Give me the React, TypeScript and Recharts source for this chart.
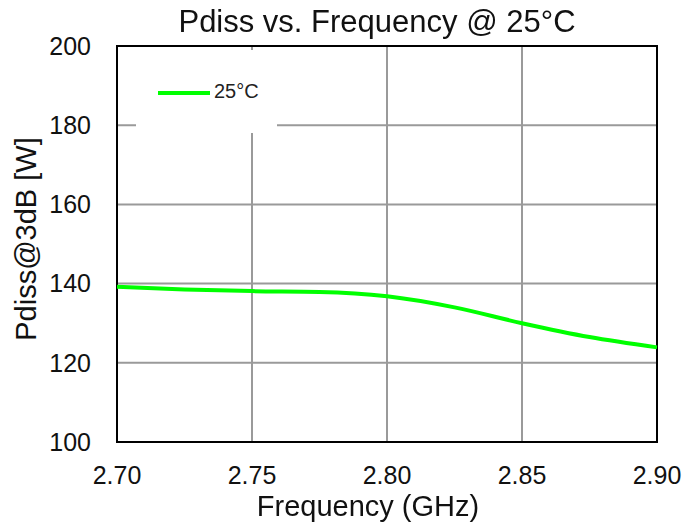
import React from 'react';
import { LineChart, Line, XAxis, YAxis, CartesianGrid, ReferenceArea } from 'recharts';

const frequency = [2.7, 2.725, 2.75, 2.775, 2.8, 2.825, 2.85, 2.875, 2.9];
const pdiss25 = [139.2, 138.5, 138.1, 137.9, 136.8, 134.0, 130.0, 126.5, 123.9];
const xTicks = [2.7, 2.75, 2.8, 2.85, 2.9];
const yTicks = [100, 120, 140, 160, 180, 200];

const FONT = '"Liberation Sans", Arial, sans-serif';
const INK = '#111';

const data = frequency.map((f, i) => ({ f, p: pdiss25[i] }));

export default function App() {
  return (
    <div style={{ position: 'fixed', left: 0, top: 0, width: 699, height: 527, background: '#fff', fontFamily: FONT, color: INK }}>
      <LineChart width={699} height={527} data={data} margin={{ top: 46, right: 42, bottom: 0, left: 0 }}>
        <CartesianGrid stroke="#9a9a9a" strokeWidth={2} />
        <XAxis
          dataKey="f"
          type="number"
          domain={[2.7, 2.9]}
          ticks={xTicks}
          tickFormatter={(v: number) => v.toFixed(2)}
          height={85}
          axisLine={false}
          tickLine={false}
          tickSize={0}
          tickMargin={24}
          tick={{ fontSize: 25, fill: INK, fontFamily: FONT }}
        />
        <YAxis
          type="number"
          domain={[100, 200]}
          ticks={yTicks}
          width={117}
          axisLine={false}
          tickLine={false}
          tickSize={0}
          tickMargin={26}
          tick={{ fontSize: 25, fill: INK, fontFamily: FONT }}
        />
        <ReferenceArea x1={2.7} x2={2.9} y1={100} y2={200} fill="none" stroke="#000" strokeWidth={2} ifOverflow="visible" />
        <Line
          type="monotone"
          dataKey="p"
          stroke="#00ff00"
          strokeWidth={4}
          dot={false}
          isAnimationActive={false}
        />
      </LineChart>

      {/* legend box sits over the grid */}
      <div style={{ position: 'absolute', left: 136, top: 50, width: 141, height: 83, background: '#fff' }}>
        <div style={{ position: 'absolute', left: 22, top: 41, width: 52, height: 4, background: '#00ff00' }} />
        <div style={{ position: 'absolute', left: 78, top: 31, fontSize: 20, lineHeight: 1, color: '#222' }}>25°C</div>
      </div>

      <div style={{ position: 'absolute', left: 0, width: 754, top: 6, textAlign: 'center', fontSize: 31, lineHeight: 1 }}>
        Pdiss vs. Frequency @ 25°C
      </div>
      <div style={{ position: 'absolute', left: 0, width: 736, top: 492, textAlign: 'center', fontSize: 29, lineHeight: 1 }}>
        Frequency (GHz)
      </div>
      <div
        style={{
          position: 'absolute',
          left: 26,
          top: 239,
          width: 300,
          textAlign: 'center',
          fontSize: 29,
          lineHeight: 1,
          transform: 'translate(-50%, -50%) rotate(-90deg)',
        }}
      >
        Pdiss@3dB [W]
      </div>
    </div>
  );
}
